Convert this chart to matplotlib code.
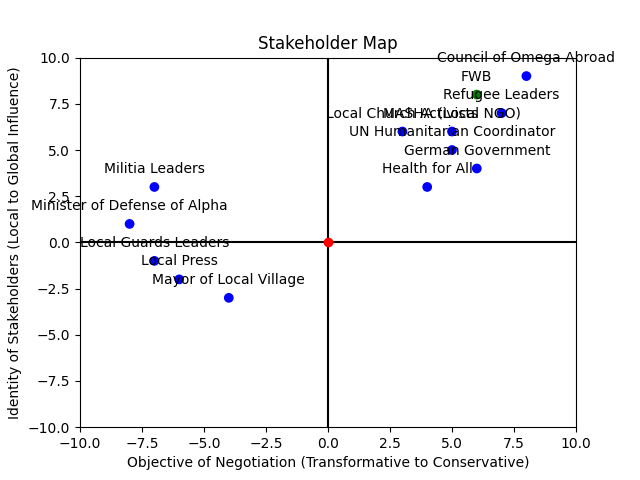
import matplotlib.pyplot as plt

names = ["Council of Omega Abroad", "FWB", "Refugee Leaders", "Local Church Activists",
         "MASHA (Local NGO)", "UN Humanitarian Coordinator", "German Government",
         "Health for All", "Militia Leaders", "Minister of Defense of Alpha",
         "Local Guards Leaders", "Local Press", "Mayor of Local Village"]
x = [8, 6, 7, 3, 5, 5, 6, 4, -7, -8, -7, -6, -4]
y = [9, 8, 7, 6, 6, 5, 4, 3, 3, 1, -1, -2, -3]
colors = ["blue", "green", "blue", "blue", "blue", "blue", "blue", "blue",
          "blue", "blue", "blue", "blue", "blue"]

fig, ax = plt.subplots(figsize=(6.4, 4.8), dpi=100)
ax.axhline(0, color="black")
ax.axvline(0, color="black")
ax.scatter(x, y, c=colors, zorder=3)
ax.scatter([0], [0], c="red", zorder=3)
for n, xi, yi in zip(names, x, y):
    ax.annotate(n, (xi, yi), textcoords="offset points", xytext=(0, 10), ha="center")
ax.set_xlim(-10, 10)
ax.set_ylim(-10, 10)
ax.set_title("Stakeholder Map")
ax.set_xlabel("Objective of Negotiation (Transformative to Conservative)")
ax.set_ylabel("Identity of Stakeholders (Local to Global Influence)")
plt.savefig("out.png")
